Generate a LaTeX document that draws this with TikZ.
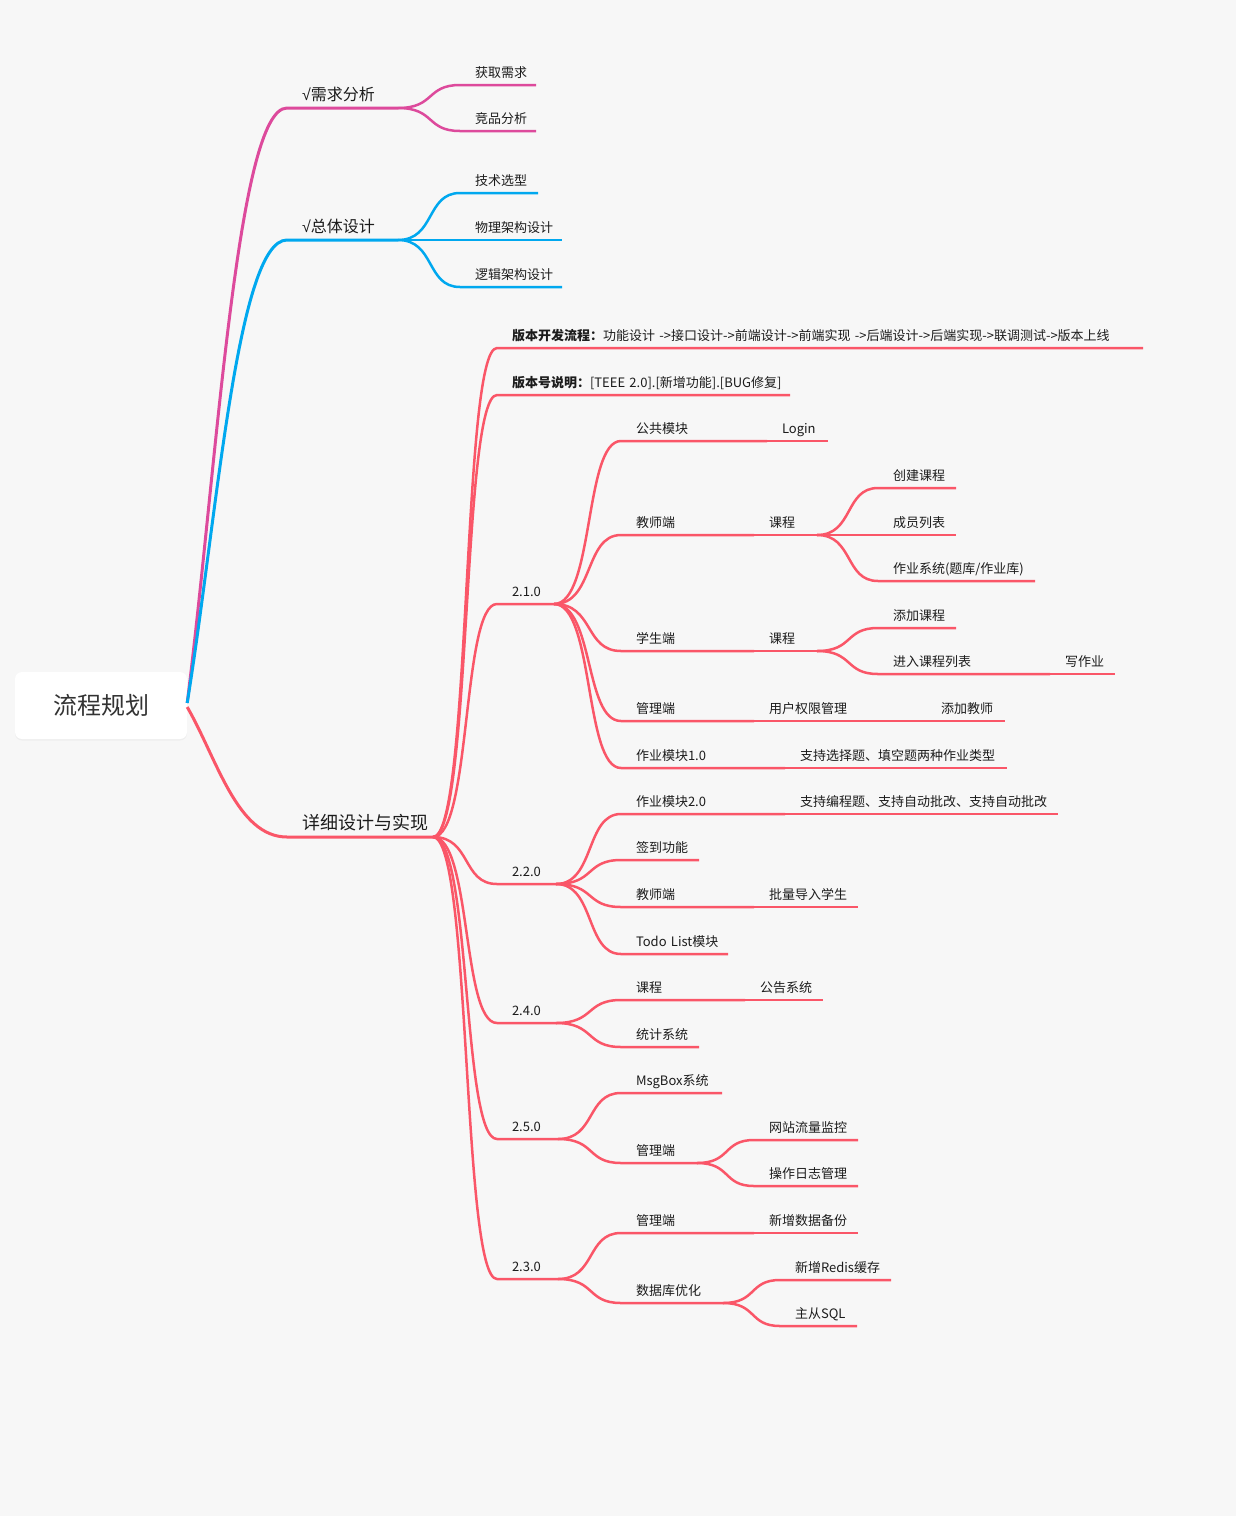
\documentclass[tikz,border=0pt]{standalone}
\usepackage{fontspec}
\setmainfont{Noto Sans CJK SC}
\newfontfamily\symfont{Liberation Sans}
\usetikzlibrary{calc,shadows}

\definecolor{bgcol}{HTML}{F7F7F7}
\definecolor{magline}{HTML}{DD4A9C}
\definecolor{blueline}{HTML}{00A8EF}
\definecolor{redline}{HTML}{FA5668}
\definecolor{txt}{HTML}{1C1C1C}
\definecolor{roottxt}{HTML}{333333}

\tikzset{
  mainbranch/.style={to path={let \p1=(\tikztostart), \p2=(\tikztotarget) in
    .. controls ({\x1+0.3*(\x2-\x1)},{\y1+0.4*(\y2-\y1)}) and ({0.5*\x1+0.5*\x2},\y2) .. (\tikztotarget)}},
  subbranch/.style={to path={let \p1=(\tikztostart), \p2=(\tikztotarget) in
    .. controls ({\x1+0.6*(\x2-\x1)},\y1) and ({\x1+0.45*(\x2-\x1)},\y2) .. (\tikztotarget)}},
  topic/.style={anchor=south west, inner xsep=0pt, inner ysep=8pt, outer sep=0pt,
    text depth=0pt, text width=#1, align=left, text=txt,
    font=\fontsize{13pt}{16pt}\selectfont,
    execute at begin node={\noindent\exhyphenpenalty=10000\hspace*{15pt}}},
  big/.style={font=\fontsize{16pt}{19pt}\selectfont},
  bigger/.style={font=\fontsize{18pt}{21pt}\selectfont, inner ysep=7.5pt},
  rootbox/.style={fill=white, rounded corners=7pt, minimum width=172pt, minimum height=67pt,
    inner sep=0pt, text=roottxt, font=\fontsize{24pt}{28pt}\selectfont,
    drop shadow={opacity=0.07, shadow xshift=0pt, shadow yshift=-1.5pt}},
  line1/.style={line width=3pt, line join=round},
  line2/.style={line width=2.5pt, line join=round, redline}
}

\begin{document}
\begin{tikzpicture}[x=1pt, y=-1pt]
  \useasboundingbox (0,0) rectangle (1236,1516);
  \fill[bgcol] (0,0) rectangle (1236,1516);

  % root
  \node[rootbox] (root) at (101,705.5) {流程规划};

  % first two branches
  \node[topic=111, big] (xq) at (287,108) {{\symfont √}需求分析};
  \node[topic=76] (hq) at (460,85) {获取需求};
  \node[topic=76] (jp) at (460,131) {竞品分析};

  \node[topic=111, big] (zt) at (287,240) {{\symfont √}总体设计};
  \node[topic=78] (js) at (460,193) {技术选型};
  \node[topic=102] (wl) at (460,240) {物理架构设计};
  \node[topic=102] (lj) at (460,287) {逻辑架构设计};

  % detailed design
  \node[topic=146, bigger] (xx) at (287,837) {详细设计与实现};
  \node[topic=646] (lc) at (497,348) {\textbf{版本开发流程：}功能设计~->接口设计->前端设计->前端实现~->后端设计->后端实现->联调测试->版本上线};
  \node[topic=293] (bb) at (497,395) {\textbf{版本号说明：}[TEEE~2.0].[新增功能].[BUG修复]};

  % 2.1.0
  \node[topic=57] (va) at (497,604) {2.1.0};
  \node[topic=146] (ggmk) at (621,441) {公共模块};
  \node[topic=61] (login) at (767,441) {Login};
  \node[topic=133] (jsd) at (621,535) {教师端};
  \node[topic=63] (kc) at (754,535) {课程};
  \node[topic=78] (cj) at (878,488) {创建课程};
  \node[topic=78] (cy) at (878,535) {成员列表};
  \node[topic=157] (zy) at (878,581) {作业系统(题库/作业库)};
  \node[topic=133] (xsd) at (621,651) {学生端};
  \node[topic=63] (kc2) at (754,651) {课程};
  \node[topic=78] (tj) at (878,628) {添加课程};
  \node[topic=172] (jr) at (878,674) {进入课程列表};
  \node[topic=65] (xzy) at (1050,674) {写作业};
  \node[topic=133] (gld) at (621,721) {管理端};
  \node[topic=172] (yh) at (754,721) {用户权限管理};
  \node[topic=79] (tjjs) at (926,721) {添加教师};
  \node[topic=164] (zy1) at (621,768) {作业模块1.0};
  \node[topic=222] (xz) at (785,768) {支持选择题、填空题两种作业类型};

  % 2.2.0
  \node[topic=59] (vb) at (497,884) {2.2.0};
  \node[topic=164] (zy2) at (621,814) {作业模块2.0};
  \node[topic=273] (bc) at (785,814) {支持编程题、支持自动批改、支持自动批改};
  \node[topic=78] (qd) at (621,860) {签到功能};
  \node[topic=133] (jsd2) at (621,907) {教师端};
  \node[topic=104] (pl) at (754,907) {批量导入学生};
  \node[topic=107] (todo) at (621,954) {Todo~List模块};

  % 2.4.0
  \node[topic=59] (vc) at (497,1023) {2.4.0};
  \node[topic=124] (kc3) at (621,1000) {课程};
  \node[topic=78] (gg) at (745,1000) {公告系统};
  \node[topic=78] (tjxt) at (621,1047) {统计系统};

  % 2.5.0
  \node[topic=61] (vd) at (497,1139) {2.5.0};
  \node[topic=101] (msg) at (621,1093) {MsgBox系统};
  \node[topic=76] (gld2) at (621,1163) {管理端};
  \node[topic=104] (wz) at (754,1140) {网站流量监控};
  \node[topic=104] (cz) at (754,1186) {操作日志管理};

  % 2.3.0
  \node[topic=61] (ve) at (497,1279) {2.3.0};
  \node[topic=133] (gld3) at (621,1233) {管理端};
  \node[topic=104] (xz3) at (754,1233) {新增数据备份};
  \node[topic=102] (sjk) at (621,1303) {数据库优化};
  \node[topic=111] (redis) at (780,1280) {新增Redis缓存};
  \node[topic=77] (zc) at (780,1326) {主从SQL};

  % connectors
  \draw[line1, magline] ([yshift=2.5pt]root.east) to[mainbranch] (xq.south west) -- (xq.south east);
  \draw[line1, blueline] ([yshift=2.5pt]root.east) to[mainbranch] (zt.south west) -- (zt.south east);
  \draw[line1, redline] ([yshift=-1.5pt]root.east) to[mainbranch] (xx.south west) -- (xx.south east);

  \foreach \c in {hq, jp}
    \draw[line2, magline] (xq.south east) to[subbranch] (\c.south west) -- (\c.south east);
  \foreach \c in {js, wl, lj}
    \draw[line2, blueline] (zt.south east) to[subbranch] (\c.south west) -- (\c.south east);

  \foreach \p/\c in {xx/lc, xx/bb, xx/va, xx/vb, xx/vc, xx/vd, xx/ve,
      va/ggmk, ggmk/login, va/jsd, jsd/kc, kc/cj, kc/cy, kc/zy,
      va/xsd, xsd/kc2, kc2/tj, kc2/jr, jr/xzy, va/gld, gld/yh, yh/tjjs, va/zy1, zy1/xz,
      vb/zy2, zy2/bc, vb/qd, vb/jsd2, jsd2/pl, vb/todo,
      vc/kc3, kc3/gg, vc/tjxt,
      vd/msg, vd/gld2, gld2/wz, gld2/cz,
      ve/gld3, gld3/xz3, ve/sjk, sjk/redis, sjk/zc}
    \draw[line2] (\p.south east) to[subbranch] (\c.south west) -- (\c.south east);
\end{tikzpicture}
\end{document}
